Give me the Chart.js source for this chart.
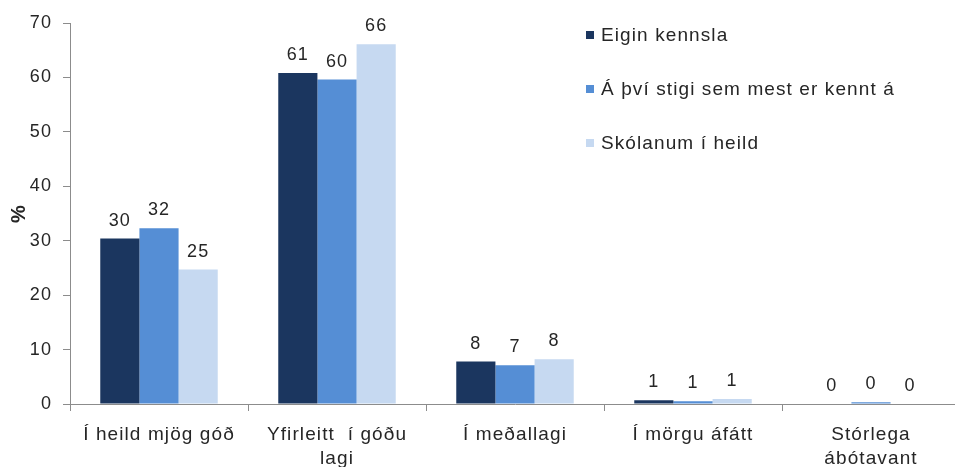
<!DOCTYPE html>
<html lang="is">
<head>
<meta charset="utf-8">
<script src="https://cdn.jsdelivr.net/npm/chart.js@4"></script>
<style>
  html, body { margin: 0; padding: 0; background: #fff; }
  #wrap { width: 955px; height: 467px; overflow: hidden; }
  #box { width: 960px; height: 467px; position: relative; }
</style>
</head>
<body>
<div id="wrap"><div id="box"><canvas id="chart"></canvas></div></div>
<script>
// categories (x axis)
var categories = [
  "Í heild mjög góð",
  ["Yfirleitt  í góðu", "lagi"],
  "Í meðallagi",
  "Í mörgu áfátt",
  ["Stórlega", "ábótavant"]
];

// series names
var seriesNames = ["Eigin kennsla", "Á því stigi sem mest er kennt á", "Skólanum í heild"];

// values in %
var eiginKennsla = [30.4, 60.8, 7.8, 0.7, 0.0];
var mestKennt    = [32.3, 59.6, 7.1, 0.5, 0.3];
var skolanum     = [24.7, 66.1, 8.2, 0.9, 0.0];

var yTicks = [0, 10, 20, 30, 40, 50, 60, 70];

var colors = ["#1b365f", "#558ed5", "#c6d9f1"];
var FONT = "'Liberation Sans', Arial, sans-serif";

// letter spacing to imitate the wide text of the original
var spacing = {
  id: "spacing",
  beforeLayout: function(chart) { chart.ctx.letterSpacing = "1.1px"; },
  beforeDraw: function(chart) { chart.ctx.letterSpacing = "1.1px"; }
};

// value labels above each bar
var valueLabels = {
  id: "valueLabels",
  afterDatasetsDraw: function(chart) {
    var ctx = chart.ctx;
    ctx.save();
    ctx.font = "18px " + FONT;
    ctx.fillStyle = "#262626";
    ctx.textAlign = "center";
    ctx.textBaseline = "bottom";
    chart.data.datasets.forEach(function(ds, i) {
      chart.getDatasetMeta(i).data.forEach(function(bar, j) {
        ctx.fillText(String(Math.round(ds.data[j])), bar.x, bar.y - 9);
      });
    });
    ctx.restore();
  }
};

// legend inside the plot, top right
var sideLegend = {
  id: "sideLegend",
  afterDraw: function(chart) {
    var ctx = chart.ctx;
    ctx.save();
    ctx.font = "19px " + FONT;
    ctx.textBaseline = "middle";
    chart.data.datasets.forEach(function(ds, i) {
      var y = 35 + i * 54;
      ctx.fillStyle = ds.backgroundColor;
      ctx.fillRect(586, y - 4, 8, 8);
      ctx.fillStyle = "#262626";
      ctx.fillText(ds.label, 601, y + 1);
    });
    ctx.restore();
  }
};

var datasets = [eiginKennsla, mestKennt, skolanum].map(function(vals, i) {
  return {
    label: seriesNames[i],
    data: vals,
    backgroundColor: colors[i],
    borderWidth: 0,
    categoryPercentage: 0.66,
    barPercentage: 1.0
  };
});

new Chart(document.getElementById("chart"), {
  type: "bar",
  data: { labels: categories, datasets: datasets },
  plugins: [spacing, valueLabels, sideLegend],
  options: {
    responsive: true,
    maintainAspectRatio: false,
    animation: false,
    layout: { padding: { top: 23, right: 0, bottom: 0, left: 0 } },
    plugins: { legend: { display: false }, tooltip: { enabled: false } },
    scales: {
      x: {
        offset: true,
        grid: { display: true, offset: true, drawOnChartArea: false, tickLength: 7, color: "#8c8c8c" },
        border: { color: "#8c8c8c" },
        ticks: { color: "#262626", font: { family: FONT, size: 19, lineHeight: 1.25 }, padding: 12, maxRotation: 0, autoSkip: false },
        afterFit: function(s) { s.height = 63; }
      },
      y: {
        min: 0,
        max: 70,
        afterBuildTicks: function(s) { s.ticks = yTicks.map(function(v) { return { value: v }; }); },
        grid: { drawOnChartArea: false, tickLength: 7, color: "#8c8c8c" },
        border: { color: "#8c8c8c" },
        ticks: { color: "#262626", font: { family: FONT, size: 18 }, padding: 11 },
        title: { display: true, text: "%", color: "#262626", font: { family: FONT, size: 20, weight: "bold" }, padding: { top: 7, bottom: 0 } },
        afterFit: function(s) { s.width = 70; }
      }
    }
  }
});
</script>
</body>
</html>
